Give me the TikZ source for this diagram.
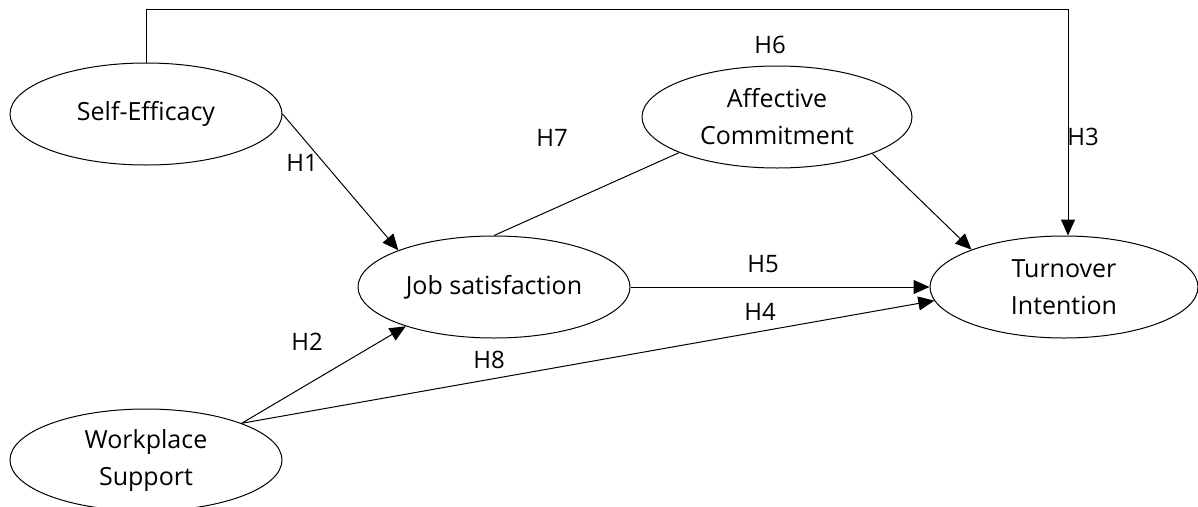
\documentclass[tikz,border=0pt]{standalone}
\usepackage{fontspec}
\setmainfont{Open Sans}
\usetikzlibrary{shapes.geometric,arrows.meta}
\begin{document}
\begin{tikzpicture}[x=1pt,y=-1pt,
  construct/.style={draw,ellipse,line width=1pt,minimum width=272pt,minimum height=102pt,inner sep=0pt,align=center,font=\fontsize{25}{37}\selectfont},
  link/.style={line width=1pt},
  arr/.style={link,-{Triangle[length=16pt,width=14pt]}},
  hyp/.style={font=\fontsize{24}{28}\selectfont,inner sep=0pt}]
\useasboundingbox (0,0) rectangle (1198,506);
\node[construct] (se) at (146,114) {Self-Efficacy};
\node[construct,minimum width=270pt] (ac) at (777,117) {Affective\\Commitment};
\node[construct] (js) at (494,287) {Job satisfaction};
\node[construct,minimum width=268pt] (ti) at (1064,287) {Turnover\\Intention};
\node[construct] (ws) at (146,460) {Workplace\\Support};
\coordinate (top) at (0,9);
\coordinate (tiTop) at ([xshift=4pt]ti.north);
\draw[arr] (se.north) -- (se.north |- top) -| (tiTop);
\draw[arr] (se.east) -- (js.159);
\draw[arr] (ws.21) -- (js.204);
\draw[arr] (ws.21) -- (ti.186);
\draw[link] (js.north) -- (ac.200);
\draw[arr] (ac.339) -- (ti.158);
\draw[arr] (js.east) -- (ti.west);
\node[hyp] (h6) at (770,45) {H6};
\node[hyp] (h3) at (1083,137) {H3};
\node[hyp] (h1) at (302,163) {H1};
\node[hyp] (h7) at (552,138) {H7};
\node[hyp] (h5) at (763,264) {H5};
\node[hyp] (h2) at (307,342) {H2};
\node[hyp] (h4) at (760,312) {H4};
\node[hyp] (h8) at (489,360) {H8};
\end{tikzpicture}
\end{document}
